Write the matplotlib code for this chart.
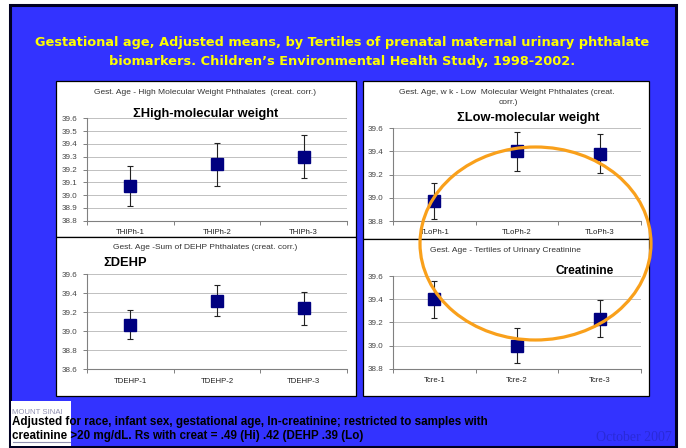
import matplotlib
matplotlib.use("Agg")
import matplotlib.pyplot as plt
from matplotlib.patches import Rectangle, Ellipse
from matplotlib.lines import Line2D
import numpy as np

plt.rcParams['font.family'] = ['Liberation Sans', 'DejaVu Sans']

# ---- data: adjusted mean gestational age (weeks) by tertile, with error half-widths
cats_hi = ["THIPh-1", "THIPh-2", "THIPh-3"]
means_hi = [39.07, 39.24, 39.30]
err_hi = [0.155, 0.165, 0.17]

cats_lo = ["TLoPh-1", "TLoPh-2", "TLoPh-3"]
means_lo = [38.97, 39.40, 39.38]
err_lo = [0.155, 0.165, 0.17]

cats_dehp = ["TDEHP-1", "TDEHP-2", "TDEHP-3"]
means_dehp = [39.07, 39.32, 39.24]
err_dehp = [0.155, 0.165, 0.175]

cats_cre = ["Tcre-1", "Tcre-2", "Tcre-3"]
means_cre = [39.40, 39.00, 39.23]
err_cre = [0.16, 0.15, 0.16]

W, H = 686, 448
fig = plt.figure(figsize=(W / 100, H / 100), dpi=100)
fig.patch.set_facecolor("white")

BLUE = "#3333FF"


def fx(x):
    return x / W


def fy(y):
    return 1 - y / H


def rect_px(x0, y0, x1, y1, **kw):
    r = Rectangle((fx(x0), fy(y1)), fx(x1) - fx(x0), fy(y0) - fy(y1),
                  transform=fig.transFigure, **kw)
    fig.add_artist(r)
    return r


# slide background with dark frame
rect_px(9.5, 4.5, 675.5, 446.5, facecolor=BLUE, edgecolor="#000022", lw=2.2, zorder=-10)

# title
title_font = dict(color="#FFFF00", fontsize=9.3, fontweight="bold",
                  family=["DejaVu Sans"], ha="center", va="center")
fig.text(fx(342), fy(42.5), "Gestational age, Adjusted means, by Tertiles of prenatal maternal urinary phthalate",
         **title_font)
fig.text(fx(342), fy(61), "biomarkers. Children\u2019s Environmental Health Study, 1998-2002.", **title_font)

# chart panels
panels = [(56, 81, 356, 237), (363, 81, 649, 239), (56, 237, 356, 396), (363, 239, 649, 396)]
for (x0, y0, x1, y1) in panels:
    rect_px(x0, y0, x1, y1, facecolor="white", edgecolor="black", lw=0.9, zorder=-5)


def make_axes(box, cats, means, errs, ylim, step):
    x0, y0, x1, y1 = box
    ax = fig.add_axes([fx(x0), fy(y1), fx(x1) - fx(x0), fy(y0) - fy(y1)])
    ax.set_facecolor("none")
    x = np.arange(len(cats))
    ax.errorbar(x, means, yerr=errs, fmt="s", color="#000080", ms=8, mec="#000080",
                ecolor="#222222", elinewidth=0.8, capsize=2.4, capthick=0.8, zorder=3)
    ax.set_xlim(-0.5, len(cats) - 0.5)
    ax.set_ylim(*ylim)
    ax.set_yticks(np.arange(ylim[0], ylim[1] + step / 2, step))
    ax.yaxis.set_major_formatter(matplotlib.ticker.FormatStrFormatter("%.1f"))
    ax.set_xticks(np.arange(-0.5, len(cats), 1.0))
    ax.set_xticklabels([])
    ax.set_xticks(x, minor=True)
    ax.set_xticklabels(cats, minor=True)
    ax.tick_params(axis="x", which="minor", length=0, pad=6, labelsize=5.6, labelcolor="#222222")
    ax.tick_params(axis="x", which="major", length=3, width=0.7, color="#808080", direction="out")
    ax.tick_params(axis="y", length=3, width=0.7, color="#808080", labelsize=5.8,
                   labelcolor="#444444", pad=4)
    ax.grid(axis="y", color="#c0c0c0", lw=0.7)
    ax.set_axisbelow(True)
    for s in ("top", "right"):
        ax.spines[s].set_visible(False)
    for s in ("left", "bottom"):
        ax.spines[s].set_color("#808080")
        ax.spines[s].set_linewidth(0.8)
    return ax


make_axes((87, 118.3, 347, 220.7), cats_hi, means_hi, err_hi, (38.8, 39.6), 0.1)
make_axes((393, 128.3, 641, 221), cats_lo, means_lo, err_lo, (38.8, 39.6), 0.2)
make_axes((87, 274, 347, 369.3), cats_dehp, means_dehp, err_dehp, (38.6, 39.6), 0.2)
make_axes((393, 276, 641, 368.7), cats_cre, means_cre, err_cre, (38.8, 39.6), 0.2)

small = dict(fontsize=6.0, color="#333333", va="center")
fig.text(fx(205), fy(92), "Gest. Age - High Molecular Weight Phthalates  (creat. corr.)", ha="center", **small)
fig.text(fx(507), fy(93), "Gest. Age, w k - Low  Molecular Weight Phthalates (creat.", ha="center", **small)
fig.text(fx(508), fy(102.5), "corr.)", ha="center", **small)
fig.text(fx(205), fy(247), "Gest. Age -Sum of DEHP Phthalates (creat. corr.)", ha="center", **small)
fig.text(fx(430), fy(250), "Gest. Age - Tertiles of Urinary Creatinine", ha="left", **small)

big = dict(fontsize=9.3, fontweight="bold", color="black", va="center")
fig.text(fx(206), fy(114), "\u03a3High-molecular weight", ha="center", **big)
fig.text(fx(528), fy(118), "\u03a3Low-molecular weight", ha="center", **big)
fig.text(fx(103), fy(263), "\u03a3DEHP", ha="left", **big)
fig.text(fx(555), fy(271), "Creatinine", ha="left", fontsize=8.6, fontweight="bold",
         color="black", va="center")

# highlight ring
ring = Ellipse((fx(535.5), fy(243.5)), fx(231), 193 / H, transform=fig.transFigure,
               facecolor="none", edgecolor="#F9A01B", lw=2.3, zorder=20)
fig.add_artist(ring)

# institution logo block
rect_px(11, 401, 71, 446, facecolor="white", edgecolor="none", zorder=1)
fig.text(fx(12), fy(412), "MOUNT SINAI", fontsize=5.6, color="#9090b0", ha="left", va="center",
         zorder=2)
fig.add_artist(Line2D([fx(13), fx(70)], [fy(442), fy(442)], transform=fig.transFigure,
                      color="#9090b0", lw=0.8, zorder=2))

note_font = dict(fontsize=8.4, fontweight="bold", color="black", ha="left", va="center", zorder=3)
fig.text(fx(12), fy(422),
         "Adjusted for race, infant sex, gestational age, ln-creatinine; restricted to samples with",
         **note_font)
fig.text(fx(12), fy(436), "creatinine >20 mg/dL. Rs with creat = .49 (Hi) .42 (DEHP .39 (Lo)",
         **note_font)

fig.text(fx(672), fy(437), "October 2007", fontsize=10, family=["Liberation Serif"],
         color="#2a2ad8", ha="right", va="center")

fig.savefig("out.png", dpi=100)
